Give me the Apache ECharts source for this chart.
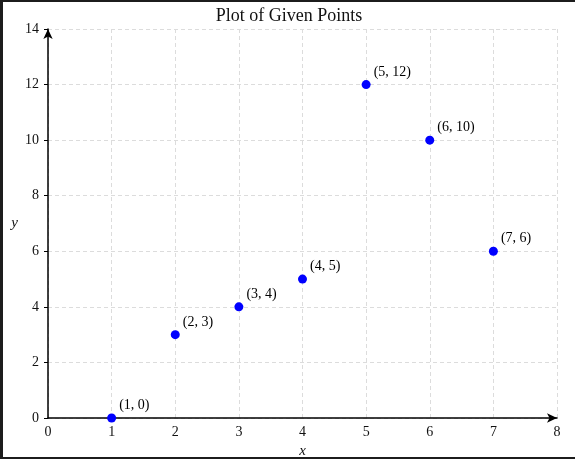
<!DOCTYPE html>
<html>
<head>
<meta charset="utf-8">
<script src="https://cdn.jsdelivr.net/npm/echarts@6/dist/echarts.min.js"></script>
<style>
html, body { margin: 0; padding: 0; background: #1c1c1c; }
#main { position: absolute; left: 3px; top: 2px; width: 572px; height: 455px; background: #fff; }
</style>
</head>
<body>
<div id="main"></div>
<script>
// points
var xs = [1, 2, 3, 4, 5, 6, 7];
var ys = [0, 3, 4, 5, 12, 10, 6];
var xTicks = [0, 1, 2, 3, 4, 5, 6, 7, 8];
var yTicks = [0, 2, 4, 6, 8, 10, 12, 14];

var serif = '"Liberation Serif", "DejaVu Serif", serif';
var points = xs.map(function (x, i) { return [x, ys[i]]; });

var chart = echarts.init(document.getElementById('main'));
chart.setOption({
    animation: false,
    textStyle: { fontFamily: serif },
    title: {
        text: 'Plot of Given Points',
        left: 'center',
        top: 0,
        textStyle: { fontFamily: serif, fontWeight: 'normal', fontSize: 18, color: '#111' }
    },
    grid: { left: 45, right: 18, top: 27, bottom: 39, outerBoundsMode: 'none', containLabel: false },
    xAxis: {
        type: 'value',
        min: xTicks[0],
        max: xTicks[xTicks.length - 1],
        interval: 1,
        name: 'x',
        nameLocation: 'middle',
        nameGap: 20,
        nameTextStyle: { fontFamily: serif, fontStyle: 'italic', fontSize: 15, color: '#111' },
        axisLine: { onZero: false, symbol: ['none', 'arrow'], symbolSize: [7, 10], lineStyle: { color: '#000', width: 1.5 } },
        axisTick: { show: false },
        axisLabel: { margin: 7, fontSize: 14, color: '#111', fontFamily: serif },
        splitLine: { show: true, lineStyle: { color: '#dcdcdc', type: [4, 3], width: 1 } }
    },
    yAxis: {
        type: 'value',
        min: yTicks[0],
        max: yTicks[yTicks.length - 1],
        interval: 2,
        name: 'y',
        nameLocation: 'middle',
        nameGap: 30,
        nameRotate: 0,
        nameTextStyle: { fontFamily: serif, fontStyle: 'italic', fontSize: 15, color: '#111', padding: [4, 0, 0, 0] },
        axisLine: { show: true, onZero: false, symbol: ['none', 'arrow'], symbolSize: [7, 10], lineStyle: { color: '#000', width: 1.5 } },
        axisTick: { show: true, length: 4, lineStyle: { color: '#000' } },
        axisLabel: { margin: 9, fontSize: 14, color: '#111', fontFamily: serif },
        splitLine: { show: true, lineStyle: { color: '#dcdcdc', type: [4, 3], width: 1 } }
    },
    series: [{
        type: 'scatter',
        data: points,
        symbolSize: 9,
        clip: false,
        itemStyle: { color: '#0000ff', opacity: 1 },
        label: {
            show: true,
            position: [12, -8],
            align: 'left',
            verticalAlign: 'middle',
            fontFamily: serif,
            fontSize: 14,
            color: '#000',
            formatter: function (p) { return '(' + p.value[0] + ', ' + p.value[1] + ')'; }
        }
    }]
});
</script>
</body>
</html>
